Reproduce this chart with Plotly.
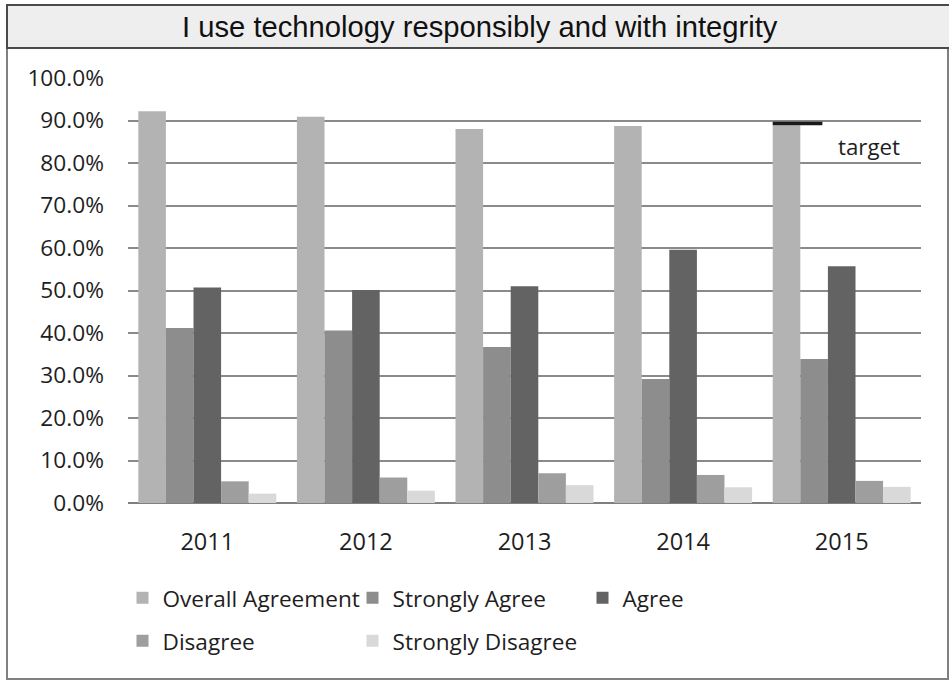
import plotly.graph_objects as go

years = ["2011", "2012", "2013", "2014", "2015"]
overall_agreement = [92.2, 90.9, 88.0, 88.7, 88.9]
strongly_agree = [41.2, 40.6, 36.7, 29.2, 33.9]
agree = [50.7, 50.1, 51.0, 59.6, 55.7]
disagree = [5.1, 6.0, 7.0, 6.6, 5.2]
strongly_disagree = [2.2, 2.9, 4.2, 3.7, 3.8]
target = 89.3
y_ticks = [0, 10, 20, 30, 40, 50, 60, 70, 80, 90, 100]
y_tick_labels = [f"{v:.1f}%" for v in y_ticks]

W, H = 949, 681
M_L, M_R, M_T, M_B = 128, 28, 78, 178
PW, PH = W - M_L - M_R, H - M_T - M_B
BARGAP = 0.13

FONT = "Open Sans, Noto Sans, sans-serif"
TEXT = "#1e1e1e"

series = [
    ("Overall Agreement", overall_agreement, "#b3b3b3", "legend"),
    ("Strongly Agree", strongly_agree, "#8d8d8d", "legend"),
    ("Agree", agree, "#636363", "legend"),
    ("Disagree", disagree, "#9e9e9e", "legend2"),
    ("Strongly Disagree", strongly_disagree, "#d9d9d9", "legend2"),
]

fig = go.Figure()
for name, vals, color, leg in series:
    fig.add_trace(go.Bar(
        x=years, y=vals, name=name, legend=leg,
        marker=dict(color=color, line=dict(width=0)),
    ))


def px_x(px):
    return (px - M_L) / PW


def px_y(py):
    return (H - M_B - py) / PH


shapes = [
    # outer frame
    dict(type="rect", xref="paper", yref="paper",
         x0=px_x(7), x1=px_x(948), y0=px_y(679), y1=px_y(5),
         line=dict(color="#808080", width=2), fillcolor="rgba(0,0,0,0)", layer="below"),
    # title band
    dict(type="rect", xref="paper", yref="paper",
         x0=px_x(7), x1=px_x(952), y0=px_y(48), y1=px_y(5),
         line=dict(color="#4a4a4a", width=2), fillcolor="#eeeeee", layer="below"),
]

# target marker over the 2015 overall-agreement bar
n_series = len(series)
bar_w = (1 - BARGAP) / n_series
x_left = (len(years) - 1) - (1 - BARGAP) / 2
shapes.append(dict(type="line", xref="x", yref="y",
                   x0=x_left, x1=x_left + 1.8 * bar_w, y0=target, y1=target,
                   line=dict(color="#1a1a1a", width=3.5)))

legend_common = dict(
    orientation="h", xref="container", yref="container",
    xanchor="left", yanchor="middle",
    entrywidth=185, entrywidthmode="pixels",
    font=dict(size=22.6, family=FONT, color=TEXT),
    bgcolor="rgba(0,0,0,0)", traceorder="normal",
)

fig.update_layout(
    width=W, height=H,
    margin=dict(l=M_L, r=M_R, t=M_T, b=M_B),
    paper_bgcolor="white", plot_bgcolor="white",
    barmode="group", bargap=BARGAP, bargroupgap=0,
    font=dict(family=FONT, color=TEXT, size=18),
    shapes=shapes,
    annotations=[
        dict(text="I use technology responsibly and with integrity",
             xref="paper", yref="paper", x=px_x(480), y=px_y(27),
             xanchor="center", yanchor="middle", showarrow=False,
             font=dict(family="Liberation Sans Narrow, Arial Narrow, Liberation Sans", size=29.2, color="#111111")),
        dict(text="target", xref="x", yref="y",
             x=len(years) - 1 + 0.17, y=target - 5.3,
             xanchor="center", yanchor="middle", showarrow=False,
             font=dict(family=FONT, size=22.3, color=TEXT)),
    ],
    xaxis=dict(
        showgrid=False, zeroline=False, showline=False,
        tickfont=dict(size=23.5, family=FONT, color=TEXT),
        ticks="", ticklabelstandoff=22,
    ),
    yaxis=dict(
        range=[0, 100], tickvals=y_ticks, ticktext=y_tick_labels,
        showgrid=True, gridcolor="#8a8a8a", gridwidth=1.5,
        zeroline=True, zerolinecolor="#7f7f7f", zerolinewidth=2,
        showline=False, ticks="",
        tickfont=dict(size=22.7, family=FONT, color=TEXT),
        ticklabelstandoff=23,
    ),
    legend=dict(legend_common, x=122.5 / W, y=1 - 598 / H),
    legend2=dict(legend_common, x=122.5 / W, y=1 - 641 / H),
)

fig.write_html("out.html")
